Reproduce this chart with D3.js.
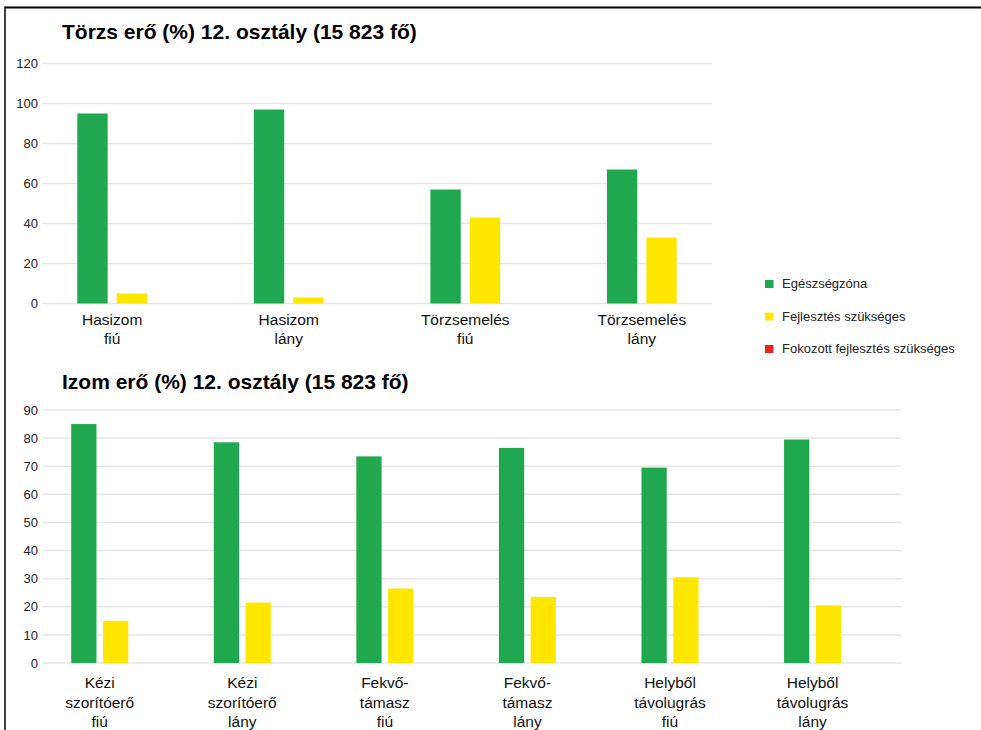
<!DOCTYPE html>
<html><head><meta charset="utf-8">
<script src="https://cdn.jsdelivr.net/npm/d3@7"></script>
<style>
html,body{margin:0;padding:0;background:#fff;}
svg{display:block;font-family:"Liberation Sans",Arial,sans-serif;}
</style></head>
<body>
<svg id="c" width="981" height="730"></svg>
<script>
// ---- data ----
const seriesNames = ["Egészségzóna", "Fejlesztés szükséges", "Fokozott fejlesztés szükséges"];
const seriesColors = ["#1fa84d", "#ffe600", "#e8251d"];

const title1 = "Törzs erő (%) 12. osztály (15 823 fő)";
const categories1 = [["Hasizom","fiú"],["Hasizom","lány"],["Törzsemelés","fiú"],["Törzsemelés","lány"]];
const egeszseg1 = [95, 97, 57, 67];
const fejlesztes1 = [5, 3, 43, 33];
const ticks1 = [0, 20, 40, 60, 80, 100, 120];

const title2 = "Izom erő (%) 12. osztály (15 823 fő)";
const categories2 = [["Kézi","szorítóerő","fiú"],["Kézi","szorítóerő","lány"],["Fekvő-","támasz","fiú"],["Fekvő-","támasz","lány"],["Helyből","távolugrás","fiú"],["Helyből","távolugrás","lány"]];
const egeszseg2 = [85, 78.5, 73.5, 76.5, 69.5, 79.5];
const fejlesztes2 = [15, 21.5, 26.5, 23.5, 30.5, 20.5];
const ticks2 = [0, 10, 20, 30, 40, 50, 60, 70, 80, 90];

// ---- drawing ----
const svg = d3.select("#c");
svg.append("rect").attr("width",981).attr("height",730).attr("fill","#fff");

function drawChart(cfg){
  const g = svg.append("g");
  const y = d3.scaleLinear().domain([0, cfg.ticks[cfg.ticks.length-1]]).range([cfg.y0, cfg.y1]);
  const keys = cfg.categories.map(c => c.join(" "));
  const x = d3.scaleBand().domain(keys).range([cfg.gx0, cfg.gx1])
    .paddingInner(cfg.pi).paddingOuter(cfg.po).align(cfg.align);
  const xs = d3.scaleBand().domain([0,1]).range([0, x.bandwidth()]).paddingInner(cfg.spi);

  // grid
  g.selectAll("line.grid").data(cfg.ticks).join("line")
    .attr("x1", cfg.gx0).attr("x2", cfg.gx1)
    .attr("y1", d => y(d)).attr("y2", d => y(d))
    .attr("stroke", "#e6e6e6").attr("stroke-width", 1.5);

  // y axis labels via d3 axis
  const ax = d3.axisLeft(y).tickValues(cfg.ticks).tickSize(0).tickPadding(0);
  const ag = g.append("g").attr("transform", `translate(${cfg.labelX},0)`).call(ax);
  ag.select(".domain").remove();
  ag.selectAll("text").attr("font-size", 13).attr("fill", "#222")
    .attr("font-family", '"Liberation Sans",Arial,sans-serif');

  // bars
  const rows = keys.map((k,i) => ({k, vals:[cfg.s0[i], cfg.s1[i]]}));
  const grp = g.selectAll("g.grp").data(rows).join("g").attr("transform", d => `translate(${x(d.k)},0)`);
  grp.selectAll("rect").data(d => d.vals.map((v,j)=>({v,j}))).join("rect")
    .attr("x", d => xs(d.j)).attr("width", xs.bandwidth())
    .attr("y", d => y(d.v)).attr("height", d => y(0) - y(d.v))
    .attr("fill", d => seriesColors[d.j]);

  // x labels
  cfg.categories.forEach((lines, i) => {
    const cx = x(keys[i]) + x.bandwidth()/2;
    const t = g.append("text").attr("text-anchor","middle").attr("font-size",15.5).attr("fill","#111");
    lines.forEach((ln, j) => t.append("tspan").attr("x", cx).attr("y", cfg.labelY + j*cfg.lineH).text(ln));
  });

  // title
  g.append("text").attr("x", 62).attr("y", cfg.titleY).attr("font-size", 21).attr("font-weight","bold")
    .attr("fill","#000").text(cfg.title);
}

drawChart({title:title1, titleY:39, categories:categories1, s0:egeszseg1, s1:fejlesztes1, ticks:ticks1,
  y0:303.5, y1:63.5, gx0:42, gx1:712, pi:0.605, po:0.2, align:0.5, spi:0.23, labelX:38, labelY:325, lineH:18.5});

drawChart({title:title2, titleY:389, categories:categories2, s0:egeszseg2, s1:fejlesztes2, ticks:ticks2,
  y0:663, y1:410, gx0:43, gx1:901, pi:0.6, po:0.309, align:0.32, spi:0.205, labelX:38, labelY:688, lineH:19.5});

// legend
const lg = svg.append("g");
const legY = [280, 312.5, 345];
seriesNames.forEach((n,i) => {
  lg.append("rect").attr("x", 765).attr("y", legY[i]).attr("width", 8.5).attr("height", 8).attr("fill", seriesColors[i]);
  lg.append("text").attr("x", 782).attr("y", legY[i]+8).attr("font-size", 13).attr("fill","#222").text(n);
});

// frame
svg.append("line").attr("x1",5).attr("x2",981).attr("y1",7.5).attr("y2",7.5).attr("stroke","#000").attr("stroke-width",2);
svg.append("line").attr("x1",5).attr("x2",5).attr("y1",6.5).attr("y2",730).attr("stroke","#000").attr("stroke-width",1.5);
</script>
</body></html>
